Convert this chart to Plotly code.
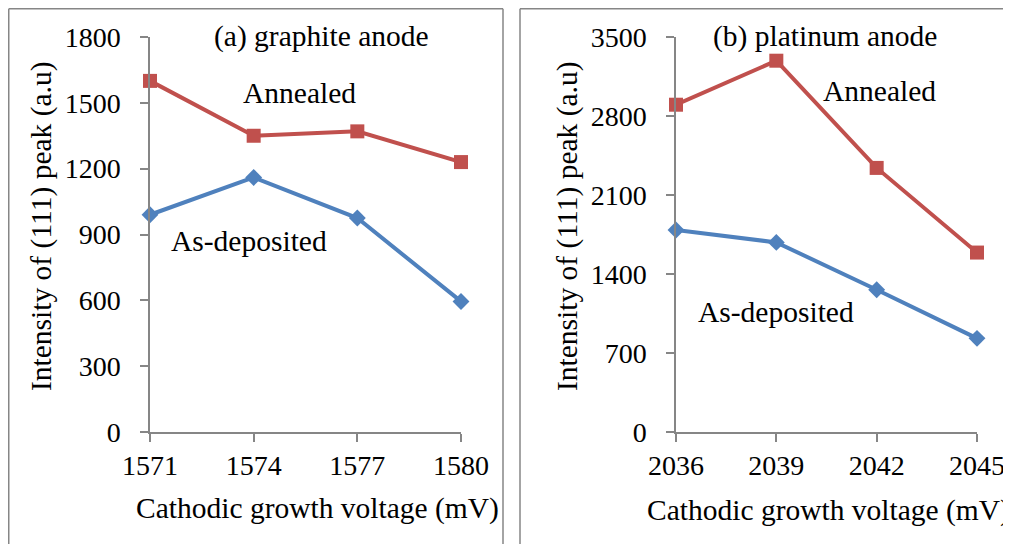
import plotly.graph_objects as go

# The page body adds an 8 px offset, so the figure is 8 px smaller and all
# positions below are given in screenshot pixels and shifted by that offset.
OFF = 8
W, H = 1011 - OFF, 544 - OFF

# Data
volt_graphite = [1571, 1574, 1577, 1580]
annealed_graphite = [1600, 1350, 1370, 1230]
asdep_graphite = [990, 1160, 975, 595]

volt_platinum = [2036, 2039, 2042, 2045]
annealed_platinum = [2900, 3290, 2340, 1590]
asdep_platinum = [1790, 1680, 1260, 830]

RED = "#C0504D"
BLUE = "#4F81BD"
GRAY = "#868686"
FONT = "Liberation Serif"

def px(x):
    return (x - OFF) / W

def py(y):
    return 1 - (y - OFF) / H

fig = go.Figure()

fig.add_trace(go.Scatter(x=volt_graphite, y=annealed_graphite, mode="lines+markers",
                         line=dict(color=RED, width=4),
                         marker=dict(symbol="square", size=14, color=RED),
                         cliponaxis=False, xaxis="x", yaxis="y", showlegend=False))
fig.add_trace(go.Scatter(x=volt_graphite, y=asdep_graphite, mode="lines+markers",
                         line=dict(color=BLUE, width=4),
                         marker=dict(symbol="diamond", size=13, color=BLUE),
                         cliponaxis=False, xaxis="x", yaxis="y", showlegend=False))
fig.add_trace(go.Scatter(x=volt_platinum, y=annealed_platinum, mode="lines+markers",
                         line=dict(color=RED, width=4),
                         marker=dict(symbol="square", size=14, color=RED),
                         cliponaxis=False, xaxis="x2", yaxis="y2", showlegend=False))
fig.add_trace(go.Scatter(x=volt_platinum, y=asdep_platinum, mode="lines+markers",
                         line=dict(color=BLUE, width=4),
                         marker=dict(symbol="diamond", size=13, color=BLUE),
                         cliponaxis=False, xaxis="x2", yaxis="y2", showlegend=False))

ydom = [py(432), py(37)]
axis_common = dict(showgrid=False, zeroline=False, showline=True, linecolor=GRAY, linewidth=1.5,
                   ticks="outside", ticklen=8, tickcolor=GRAY, tickwidth=1.5, automargin=False,
                   tickfont=dict(family=FONT, size=28, color="black"))

fig.update_layout(
    width=W, height=H, autosize=False,
    margin=dict(l=0, r=0, t=0, b=0, pad=0, autoexpand=False),
    paper_bgcolor="white", plot_bgcolor="white",
    xaxis=dict(domain=[px(150), px(461)], range=[1571, 1580], tickvals=volt_graphite,
               anchor="y", ticklabelstandoff=0, **axis_common),
    yaxis=dict(domain=ydom, range=[0, 1800], dtick=300, anchor="x",
               ticklabelstandoff=14, **axis_common),
    xaxis2=dict(domain=[px(676), px(977)], range=[2036, 2045], tickvals=volt_platinum,
                anchor="y2", ticklabelstandoff=0, **axis_common),
    yaxis2=dict(domain=ydom, range=[0, 3500], dtick=700, anchor="x2",
                ticklabelstandoff=14, **axis_common),
)

# Panel borders (kept inside the paper)
def seg(x0, y0, x1, y1):
    fig.add_shape(type="line", xref="paper", yref="paper",
                  x0=px(x0), y0=py(y0), x1=px(x1), y1=py(y1),
                  line=dict(color=GRAY, width=1.5), layer="below")

seg(8.75, 8.75, 8.75, 544)
seg(8.75, 8.75, 503, 8.75)
seg(503, 8.75, 503, 544)
seg(520, 8.75, 520, 544)
seg(520, 8.75, 1011, 8.75)

def note(text, x, y, size=29.5, angle=0):
    fig.add_annotation(text=text, xref="paper", yref="paper", x=px(x), y=py(y),
                       xanchor="center", yanchor="middle", showarrow=False, textangle=angle,
                       font=dict(family=FONT, size=size, color="black"))

note("(a) graphite anode", 321, 37)
note("(b) platinum anode", 825, 37)
note("Annealed", 299, 93)
note("As-deposited", 249, 241)
note("Annealed", 879, 91)
note("As-deposited", 776, 312)
note("Cathodic growth voltage (mV)", 317, 508)
note("Cathodic growth voltage (mV)", 828, 510)
note("Intensity of (111) peak (a.u)", 41, 226, angle=-90)
note("Intensity of (111) peak (a.u)", 567, 226, angle=-90)

fig.write_html("out.html")
